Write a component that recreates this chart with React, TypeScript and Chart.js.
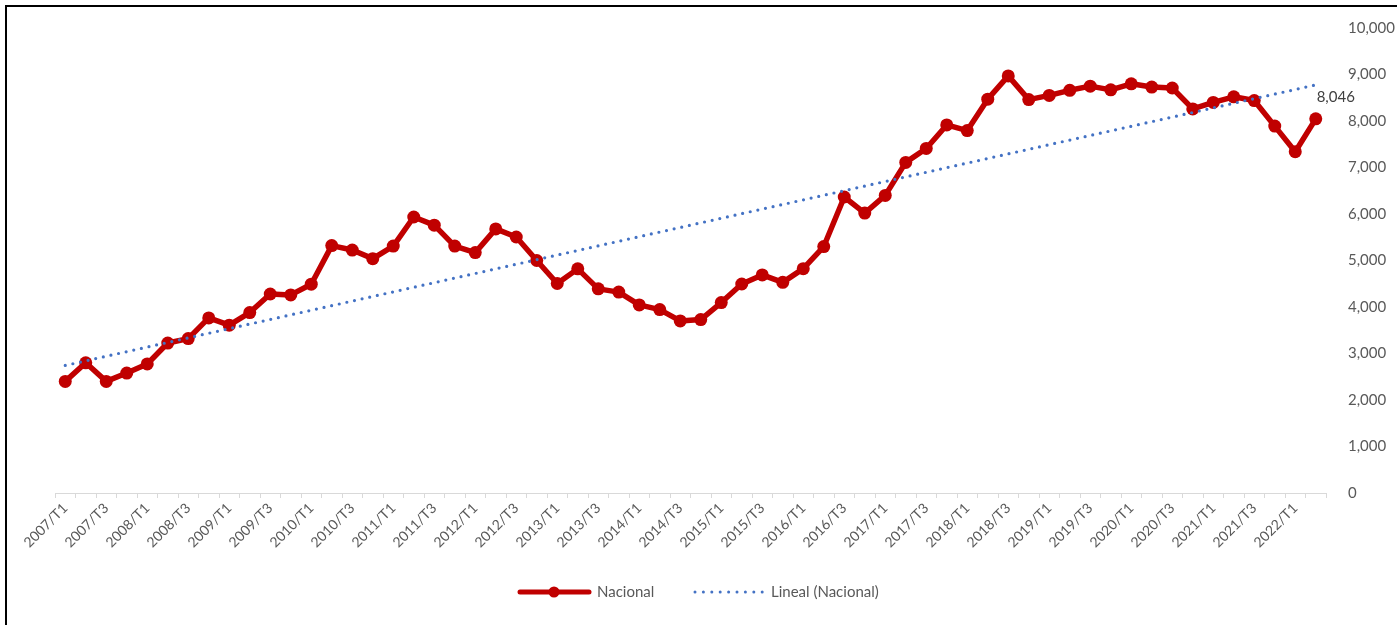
import React, { useEffect, useRef } from "react";
import { Chart, registerables } from "chart.js";

Chart.register(...registerables);

const categories: string[] = [
  "2007/T1", "2007/T2", "2007/T3", "2007/T4",
  "2008/T1", "2008/T2", "2008/T3", "2008/T4",
  "2009/T1", "2009/T2", "2009/T3", "2009/T4",
  "2010/T1", "2010/T2", "2010/T3", "2010/T4",
  "2011/T1", "2011/T2", "2011/T3", "2011/T4",
  "2012/T1", "2012/T2", "2012/T3", "2012/T4",
  "2013/T1", "2013/T2", "2013/T3", "2013/T4",
  "2014/T1", "2014/T2", "2014/T3", "2014/T4",
  "2015/T1", "2015/T2", "2015/T3", "2015/T4",
  "2016/T1", "2016/T2", "2016/T3", "2016/T4",
  "2017/T1", "2017/T2", "2017/T3", "2017/T4",
  "2018/T1", "2018/T2", "2018/T3", "2018/T4",
  "2019/T1", "2019/T2", "2019/T3", "2019/T4",
  "2020/T1", "2020/T2", "2020/T3", "2020/T4",
  "2021/T1", "2021/T2", "2021/T3", "2021/T4",
  "2022/T1", "2022/T2",
];

const nacional: number[] = [
  2400, 2800, 2400, 2580, 2775, 3225, 3320, 3765, 3610, 3880,
  4280, 4260, 4490, 5320, 5225, 5040, 5310, 5935, 5760, 5310,
  5170, 5680, 5505, 5000, 4505, 4820, 4390, 4320, 4045, 3945,
  3700, 3730, 4095, 4495, 4690, 4530, 4825, 5300, 6365, 6020,
  6400, 7110, 7410, 7915, 7795, 8470, 8970, 8460, 8550, 8660,
  8750, 8670, 8800, 8730, 8710, 8260, 8400, 8520, 8440, 7890,
  7340, 8046,
];

const yTicks: number[] = [0, 1000, 2000, 3000, 4000, 5000, 6000, 7000, 8000, 9000, 10000];

const seriesName = "Nacional";
const trendName = "Lineal (Nacional)";

// Linear least-squares trend of the series (Excel "Lineal" trendline)
function linearTrend(values: number[]): number[] {
  const n = values.length;
  let sx = 0, sy = 0, sxy = 0, sxx = 0;
  values.forEach((v, i) => {
    const x = i + 1;
    sx += x; sy += v; sxy += x * v; sxx += x * x;
  });
  const b = (n * sxy - sx * sy) / (n * sxx - sx * sx);
  const a = (sy - b * sx) / n;
  return values.map((_, i) => a + b * (i + 1));
}

const FONT = "Lato, 'Open Sans', sans-serif";
const TEXT = "#595959";
const RED = "#C00000";
const BLUE = "#4472C4";

const fmt = (v: number) => v.toLocaleString("en-US");

export default function App() {
  const ref = useRef<HTMLCanvasElement | null>(null);

  useEffect(() => {
    if (!ref.current) return;
    const trend = linearTrend(nacional);

    const extras = {
      id: "extras",
      afterDatasetsDraw(chart: any) {
        const ctx = chart.ctx as CanvasRenderingContext2D;
        const meta = chart.getDatasetMeta(0);
        const last = meta.data[meta.data.length - 1];
        ctx.save();
        ctx.font = `15px ${FONT}`;
        ctx.fillStyle = "#404040";
        ctx.textAlign = "center";
        ctx.textBaseline = "middle";
        ctx.fillText(fmt(nacional[nacional.length - 1]), last.x + 20, last.y - 22);
        ctx.restore();
      },
      afterDraw(chart: any) {
        const ctx = chart.ctx as CanvasRenderingContext2D;
        const y = 585;
        ctx.save();
        ctx.strokeStyle = RED;
        ctx.lineWidth = 5;
        ctx.lineCap = "round";
        ctx.beginPath();
        ctx.moveTo(513, y);
        ctx.lineTo(582, y);
        ctx.stroke();
        ctx.fillStyle = RED;
        ctx.beginPath();
        ctx.arc(547, y, 5.5, 0, Math.PI * 2);
        ctx.fill();
        ctx.font = `15px ${FONT}`;
        ctx.fillStyle = TEXT;
        ctx.textBaseline = "middle";
        ctx.textAlign = "left";
        ctx.fillText(seriesName, 590, y);
        ctx.fillStyle = BLUE;
        for (let i = 0; i < 9; i++) {
          ctx.beginPath();
          ctx.arc(688 + i * 8.4, y, 1.5, 0, Math.PI * 2);
          ctx.fill();
        }
        ctx.fillStyle = TEXT;
        ctx.fillText(trendName, 764, y);
        ctx.restore();
      },
    };

    const chart = new Chart(ref.current, {
      type: "line",
      data: {
        labels: categories,
        datasets: [
          {
            label: seriesName,
            data: nacional,
            borderColor: RED,
            backgroundColor: RED,
            borderWidth: 5.5,
            pointRadius: 6.5,
            pointBorderWidth: 0,
            pointBackgroundColor: RED,
            borderJoinStyle: "round",
            tension: 0,
            order: 2,
          },
          {
            label: trendName,
            data: trend,
            borderColor: BLUE,
            borderWidth: 3.2,
            borderDash: [0, 7.8],
            borderCapStyle: "round",
            pointRadius: 0,
            tension: 0,
            order: 1,
          },
        ],
      },
      plugins: [extras],
      options: {
        responsive: false,
        animation: false,
        events: [],
        layout: { autoPadding: false, padding: { left: 48, top: 21, right: 0, bottom: 0 } },
        plugins: {
          legend: { display: false },
          tooltip: { enabled: false },
          title: { display: false },
        },
        scales: {
          x: {
            type: "category",
            offset: true,
            grid: {
              offset: true,
              drawOnChartArea: false,
              drawTicks: true,
              tickLength: 5,
              color: "#D9D9D9",
            },
            border: { display: true, color: "#D9D9D9", width: 1 },
            ticks: {
              autoSkip: false,
              minRotation: 45,
              maxRotation: 45,
              padding: 2,
              color: TEXT,
              font: { family: FONT, size: 14 },
              callback: (_v: any, i: number) => (i % 2 === 0 ? categories[i] : ""),
            },
            afterFit: (s: any) => {
              s.height = 132;
            },
          },
          y: {
            position: "right",
            min: yTicks[0],
            max: yTicks[yTicks.length - 1],
            afterBuildTicks: (s: any) => {
              s.ticks = yTicks.map((v) => ({ value: v }));
            },
            grid: {
              display: true,
              drawOnChartArea: false,
              drawTicks: true,
              tickLength: 22,
              color: "rgba(0,0,0,0)",
            },
            border: { display: false },
            ticks: {
              padding: 0,
              color: TEXT,
              font: { family: FONT, size: 15 },
              callback: (v: any) => fmt(Number(v)),
            },
            afterFit: (s: any) => {
              s.width = 71;
            },
          },
        },
      },
    } as any);

    return () => chart.destroy();
  }, []);

  return (
    <div
      style={{
        position: "fixed",
        left: 5,
        top: 5,
        width: 1420,
        height: 640,
        border: "2px solid #000",
        boxSizing: "border-box",
        background: "#fff",
      }}
    >
      <canvas
        ref={ref}
        width={1390}
        height={618}
        style={{ position: "absolute", left: 0, top: 0, width: 1390, height: 618 }}
      />
    </div>
  );
}
